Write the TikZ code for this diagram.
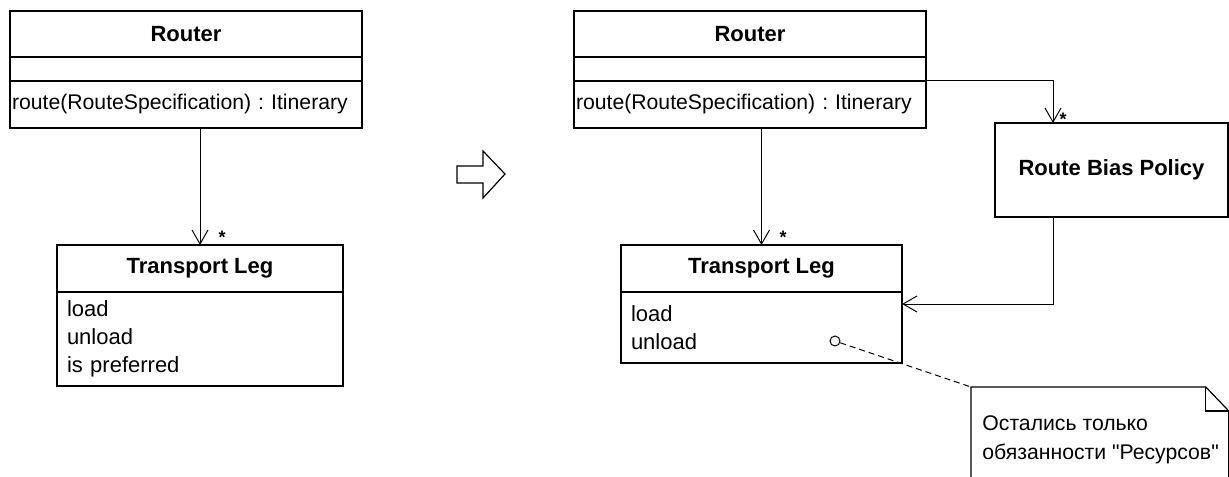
\documentclass[tikz,border=0pt]{standalone}
\usepackage{fontspec}
\setmainfont{Liberation Sans}
\usepackage{tikz}
\usetikzlibrary{arrows.meta,positioning,calc}
\frenchspacing

\begin{document}
\begin{tikzpicture}[
    x=0.5pt, y=-0.5pt,
    font=\fontsize{11}{14}\selectfont,
    part/.style={draw, rectangle, inner sep=0pt, outer sep=0pt, line width=0.6pt, minimum height=#1},
    head/.style={part=23pt, font=\fontsize{11}{14}\selectfont\bfseries},
    opsfont/.style={font=\fontsize{10.6}{14}\selectfont},
    assoc/.style={-{Straight Barb[length=7pt, width=8pt]}, line width=0.5pt},
    mult/.style={inner sep=0pt, font=\fontsize{9}{10}\selectfont\bfseries},
]
\useasboundingbox (0,0) rectangle (1229,476);

\node[head, minimum width=176pt, anchor=north] (lrhead) at (186,11) {Router};
\node[part=12pt, minimum width=176pt, below=0pt of lrhead] (lrattr) {};
\node[part=23.5pt, minimum width=176pt, text width=174pt, align=left, opsfont,
    below=0pt of lrattr] (lrops) {\mbox{route(RouteSpecification) : Itinerary}};

\node[head, minimum height=23.5pt, minimum width=143pt, anchor=north] (ltlhead) at (200,245) {Transport Leg};
\node[part=47pt, minimum width=143pt, text width=133pt, align=left,
    below=0pt of ltlhead] (ltlbody) {load\\unload\\is preferred};

\draw[line width=0.6pt] (457,166) -- (483,166) -- (483,151) -- (505,174)
    -- (483,198) -- (483,183) -- (457,183) -- cycle;

\node[head, minimum width=176pt, anchor=north] (rrhead) at (750,11) {Router};
\node[part=12pt, minimum width=176pt, below=0pt of rrhead] (rrattr) {};
\node[part=23.5pt, minimum width=176pt, text width=174pt, align=left, opsfont,
    below=0pt of rrattr] (rrops) {\mbox{route(RouteSpecification) : Itinerary}};

\node[head, minimum height=23.5pt, minimum width=140.5pt, anchor=north] (rtlhead) at (761.5,245) {Transport Leg};
\node[part=35.5pt, minimum width=140.5pt, text width=130.5pt, align=left,
    below=0pt of rtlhead] (rtlbody) {load\\unload};

\node[head, minimum height=47pt, minimum width=116.5pt] (policy) at (1111.5,170) {Route Bias Policy};

\node[minimum width=128.5pt, minimum height=50.5pt, inner sep=0pt, anchor=north west] (note) at (971,387) {};
\draw[line width=0.6pt] (note.south west) -- (note.north west) -- ($(note.north east)+(-23,0)$)
    -- ($(note.north east)+(0,24)$) -- (note.south east);
\draw[line width=0.6pt] ($(note.north east)+(-23,0)$) |- ($(note.north east)+(0,24)$);
\node[inner sep=0pt, align=left, anchor=north west, font=\fontsize{10.6}{14.5}\selectfont]
    (notetext) at (982,415) {Остались только\\обязанности \textquotedbl Ресурсов\textquotedbl};

\node[draw, circle, inner sep=0pt, minimum size=5pt, line width=0.5pt] (hook) at (835,341) {};

\draw[assoc] (ltlhead.north |- lrops.south) -- (ltlhead.north);
\node[mult] (lstar) at (222,237) {*};

\draw[assoc] (rtlhead.north |- rrops.south) -- (rtlhead.north);
\node[mult] (rstar) at (783,237) {*};

\draw[assoc] (rrattr.south east) -| ($(policy.north west)+(58,0)$);
\node[mult] (pstar) at (1063,119) {*};

\draw[assoc] ($(policy.south west)+(58,0)$) |- ($(rtlbody.north east)+(0,12)$);

\draw[line width=0.5pt, dash pattern=on 3pt off 2pt] (hook) -- (note.north west);

\end{tikzpicture}
\end{document}
